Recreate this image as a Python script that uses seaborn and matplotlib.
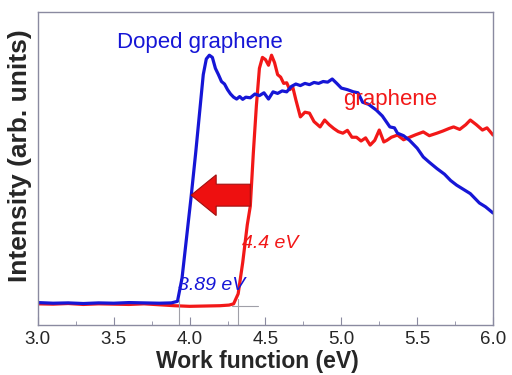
import numpy as np
import pandas as pd
import seaborn as sns
import matplotlib as mpl
import matplotlib.pyplot as plt
from matplotlib.patches import FancyArrow
from matplotlib.ticker import MultipleLocator

# Work function spectra
doped_x = [3.00, 3.10, 3.20, 3.30, 3.40, 3.50, 3.60, 3.70, 3.80, 3.88, 3.92,
           3.95, 3.98, 4.01, 4.04, 4.07, 4.09, 4.11, 4.13, 4.15, 4.17, 4.19,
           4.21, 4.23, 4.25, 4.27, 4.29, 4.31, 4.33, 4.35, 4.37, 4.40, 4.43,
           4.46, 4.49, 4.52, 4.55, 4.58, 4.61, 4.64, 4.67, 4.70, 4.73, 4.76,
           4.79, 4.82, 4.85, 4.88, 4.91, 4.94, 4.97, 5.00, 5.04, 5.08, 5.11,
           5.14, 5.18, 5.23, 5.27, 5.32, 5.35, 5.37, 5.41, 5.45, 5.50, 5.54,
           5.58, 5.63, 5.68, 5.72, 5.76, 5.81, 5.85, 5.88, 5.91, 5.95, 6.00]
doped_y = [0.072, 0.070, 0.071, 0.069, 0.071, 0.070, 0.072, 0.071, 0.070, 0.071, 0.076,
           0.150, 0.280, 0.410, 0.550, 0.700, 0.800, 0.850, 0.862, 0.855, 0.820, 0.800,
           0.778, 0.770, 0.752, 0.738, 0.728, 0.722, 0.730, 0.721, 0.728, 0.726, 0.738,
           0.733, 0.742, 0.722, 0.745, 0.740, 0.748, 0.745, 0.762, 0.770, 0.765, 0.772,
           0.768, 0.775, 0.772, 0.778, 0.776, 0.786, 0.772, 0.757, 0.752, 0.745, 0.742,
           0.712, 0.705, 0.687, 0.668, 0.633, 0.630, 0.613, 0.605, 0.590, 0.565, 0.537,
           0.520, 0.500, 0.482, 0.462, 0.447, 0.432, 0.420, 0.405, 0.390, 0.378, 0.358]

pristine_x = [3.00, 3.10, 3.20, 3.30, 3.40, 3.50, 3.60, 3.70, 3.80, 3.90, 4.00,
              4.10, 4.20, 4.26, 4.29, 4.32, 4.35, 4.38, 4.40, 4.42, 4.44, 4.46,
              4.48, 4.50, 4.52, 4.54, 4.56, 4.58, 4.60, 4.62, 4.64, 4.66, 4.68,
              4.70, 4.73, 4.76, 4.79, 4.82, 4.86, 4.89, 4.92, 4.95, 4.98, 5.01,
              5.04, 5.07, 5.10, 5.13, 5.16, 5.19, 5.22, 5.25, 5.28, 5.30, 5.33,
              5.37, 5.41, 5.45, 5.49, 5.54, 5.58, 5.63, 5.67, 5.71, 5.74, 5.78,
              5.82, 5.85, 5.89, 5.93, 5.96, 6.00]
pristine_y = [0.068, 0.067, 0.069, 0.066, 0.068, 0.067, 0.066, 0.068, 0.065, 0.062, 0.060,
              0.061, 0.062, 0.064, 0.068, 0.100, 0.200, 0.320, 0.380, 0.550, 0.700, 0.820,
              0.855, 0.848, 0.830, 0.862, 0.838, 0.800, 0.792, 0.772, 0.774, 0.752, 0.760,
              0.720, 0.665, 0.680, 0.677, 0.650, 0.633, 0.655, 0.640, 0.628, 0.618, 0.613,
              0.622, 0.600, 0.600, 0.588, 0.598, 0.575, 0.590, 0.623, 0.585, 0.590, 0.600,
              0.607, 0.592, 0.600, 0.608, 0.617, 0.605, 0.613, 0.620, 0.628, 0.633, 0.625,
              0.640, 0.655, 0.640, 0.623, 0.630, 0.607]

blue = '#1616d6'
red = '#f21818'

sns.set_style("white")
mpl.rcParams['font.family'] = ['Liberation Sans', 'DejaVu Sans']

fig = plt.figure(figsize=(5.12, 3.75), dpi=100)
ax = fig.add_axes([0.074, 0.133, 0.889, 0.835])

df = pd.concat([
    pd.DataFrame({'wf': pristine_x, 'inten': pristine_y, 'sample': 'graphene'}),
    pd.DataFrame({'wf': doped_x, 'inten': doped_y, 'sample': 'Doped graphene'}),
])
sns.lineplot(data=df, x='wf', y='inten', hue='sample',
             palette={'graphene': red, 'Doped graphene': blue},
             hue_order=['graphene', 'Doped graphene'], sort=False, estimator=None,
             lw=2.3, legend=False, ax=ax)

# onset guide lines
ax.plot([3.93, 3.93], [0.0, 0.085], color='#a0a0a8', lw=0.8)
ax.plot([4.32, 4.32], [0.0, 0.085], color='#a0a0a8', lw=0.8)
ax.plot([4.28, 4.45], [0.062, 0.062], color='#a0a0a8', lw=0.8)

# shift arrow
ax.add_patch(FancyArrow(4.40, 0.415, -0.39, 0.0, width=0.07, head_width=0.13,
                        head_length=0.165, length_includes_head=True,
                        facecolor='#ee1010', edgecolor='#a01010', lw=0.8, zorder=4))

ax.text(3.52, 0.904, 'Doped graphene', color=blue, fontsize=16, ha='left', va='center')
ax.text(5.01, 0.719, 'graphene', color=red, fontsize=16, ha='left', va='center')
ax.text(4.345, 0.262, '4.4 eV', color=red, fontsize=14, style='italic', ha='left', va='center')
ax.text(3.923, 0.128, '3.89 eV', color=blue, fontsize=14, style='italic', ha='left', va='center')

ax.set_xlim(3.0, 6.0)
ax.set_ylim(0.0, 1.0)
ax.xaxis.set_minor_locator(MultipleLocator(0.25))
ax.set_xticks([3.0, 3.5, 4.0, 4.5, 5.0, 5.5, 6.0])
ax.set_xticklabels(['3.0', '3.5', '4.0', '4.5', '5.0', '5.5', '6.0'])
ax.set_yticks([])
ax.tick_params(axis='x', which='major', direction='in', length=6, color='#8a8aa0',
               labelsize=13.5, pad=4, bottom=True, top=False)
ax.tick_params(axis='x', which='minor', direction='in', length=3, color='#8a8aa0',
               bottom=True, top=False)
for s in ax.spines.values():
    s.set_color('#8a8aa0')
    s.set_linewidth(1.0)

ax.set_xlabel('Work function (eV)', fontsize=16.5, fontweight='bold')
ax.set_ylabel('Intensity (arb. units)', fontsize=19, fontweight='bold')
ax.xaxis.set_label_coords(0.483, -0.078)
ax.yaxis.set_label_coords(-0.014, 0.54)

fig.savefig('out.png', dpi=100)
